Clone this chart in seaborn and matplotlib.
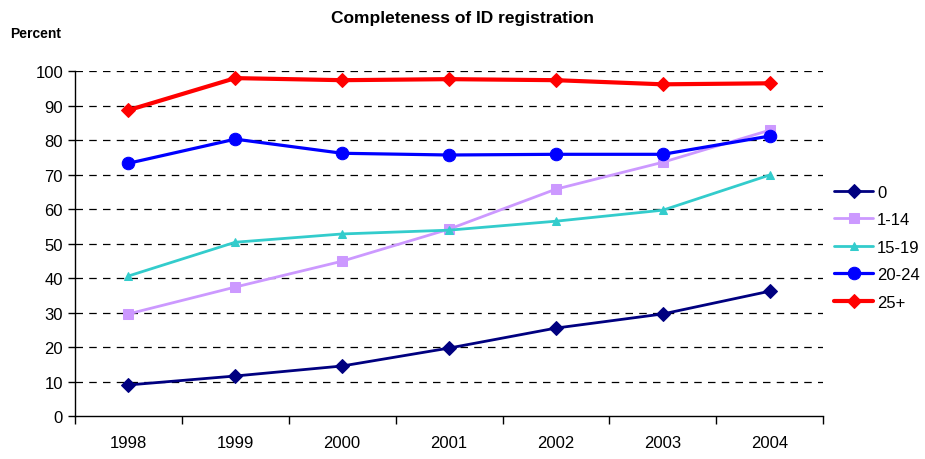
import matplotlib
matplotlib.use("Agg")
import matplotlib.pyplot as plt
import numpy as np
import pandas as pd
import seaborn as sns
from matplotlib.ticker import FixedLocator, NullFormatter

years = [1998, 1999, 2000, 2001, 2002, 2003, 2004]
groups = ["0", "1-14", "15-19", "20-24", "25+"]
age_0 = [9.0, 11.6, 14.5, 19.7, 25.5, 29.6, 36.2]
age_1_14 = [29.6, 37.4, 44.9, 54.2, 65.8, 73.6, 82.9]
age_15_19 = [40.6, 50.4, 52.8, 53.9, 56.5, 59.7, 69.9]
age_20_24 = [73.3, 80.3, 76.2, 75.7, 75.9, 75.9, 81.2]
age_25_plus = [88.7, 98.0, 97.4, 97.7, 97.4, 96.2, 96.5]

values = [age_0, age_1_14, age_15_19, age_20_24, age_25_plus]
df = pd.DataFrame({
    "Year": np.tile(years, len(groups)),
    "Percent": np.concatenate(values),
    "Group": np.repeat(groups, len(years)),
})

# per-series look
colors = {"0": "#000080", "1-14": "#CC99FF", "15-19": "#33CCCC",
          "20-24": "#0000FF", "25+": "#FF0000"}
markers = {"0": "D", "1-14": "s", "15-19": "^", "20-24": "o", "25+": "D"}
msizes = {"0": 7, "1-14": 7, "15-19": 6, "20-24": 9, "25+": 7}
lwidths = {"0": 2.0, "1-14": 2.0, "15-19": 2.0, "20-24": 2.3, "25+": 3.0}

sns.set_style("white")
plt.rcParams["font.family"] = ["Liberation Sans", "DejaVu Sans"]
plt.rcParams["text.color"] = "black"
plt.rcParams["xtick.color"] = "black"
plt.rcParams["ytick.color"] = "black"

fig = plt.figure(figsize=(9.25, 4.6), dpi=100)
ax = fig.add_axes([0.081, 0.0935, 0.809, 0.7495])

for g in groups:
    sns.lineplot(data=df[df["Group"] == g], x="Year", y="Percent", ax=ax,
                 color=colors[g], marker=markers[g], markersize=msizes[g],
                 markeredgecolor=colors[g], linewidth=lwidths[g], label=g,
                 zorder=3)

ax.set_xlim(1997.5, 2004.5)
ax.set_ylim(0, 100)
ax.set_yticks(np.arange(0, 101, 10))
ax.xaxis.set_major_locator(FixedLocator(np.arange(1997.5, 2005, 1)))
ax.xaxis.set_major_formatter(NullFormatter())
ax.set_xticks(years, [str(y) for y in years], minor=True)
ax.tick_params(axis="x", which="major", length=6, width=1,
               direction="out", bottom=True)
ax.tick_params(axis="x", which="minor", length=0, labelsize=12, pad=14)
ax.tick_params(axis="y", length=5, width=1, direction="out",
               left=True, labelsize=12)

for v in range(10, 101, 10):
    ax.axhline(v, color="black", linestyle=(0, (6, 5)), linewidth=0.9, zorder=1)

for s in ["top", "right"]:
    ax.spines[s].set_visible(False)
for s in ["left", "bottom"]:
    ax.spines[s].set_color("black")
    ax.spines[s].set_linewidth(1)

ax.set_xlabel("")
ax.set_ylabel("")
ax.legend(loc="center left", bbox_to_anchor=(1.015, 0.49), frameon=False,
          fontsize=12, handlelength=2.3, labelspacing=0.75, handletextpad=0.25,
          borderpad=0, borderaxespad=0)

fig.text(0.5, 0.96, "Completeness of ID registration", ha="center", va="center",
         fontsize=12.5, fontweight="bold")
fig.text(0.011, 0.925, "Percent", ha="left", va="center", fontsize=10,
         fontweight="bold")

fig.savefig("out.png", dpi=100)
